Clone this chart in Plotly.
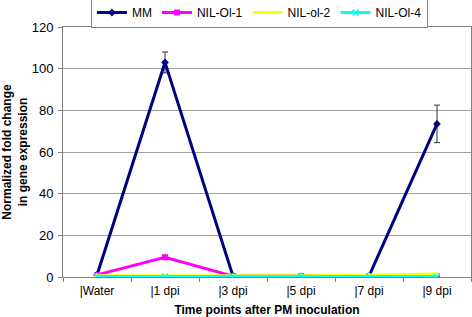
import plotly.graph_objects as go

categories = ["|Water", "|1 dpi", "|3 dpi", "|5 dpi", "|7 dpi", "|9 dpi"]
mm = [1.0, 103.0, 0.4, 0.3, 0.4, 73.5]
mm_err = [0, 5.0, 0, 0, 0, 9.0]
nil_ol_1 = [1.0, 9.5, 0.4, 0.4, 0.4, 0.5]
nil_ol_2 = [0.6, 0.5, 0.5, 0.6, 0.8, 1.5]
nil_ol_4 = [0.3, 0.2, 0.2, 0.2, 0.2, 0.3]
y_ticks = [0, 20, 40, 60, 80, 100, 120]

fig = go.Figure()
fig.add_trace(go.Scatter(
    x=categories, y=mm, name="MM", mode="lines+markers",
    line=dict(color="#000080", width=3),
    marker=dict(symbol="diamond", size=6, color="#000080"),
    error_y=dict(type="data", array=mm_err, visible=True, color="#333333", thickness=1, width=3)))
fig.add_trace(go.Scatter(
    x=categories, y=nil_ol_1, name="NIL-Ol-1", mode="lines+markers",
    line=dict(color="#FF00FF", width=3),
    marker=dict(symbol="square", size=6, color="#FF00FF")))
fig.add_trace(go.Scatter(
    x=categories, y=nil_ol_2, name="NIL-ol-2", mode="lines+markers",
    line=dict(color="#FFFF00", width=3),
    marker=dict(symbol="triangle-up", size=6, color="#FFFF00")))
fig.add_trace(go.Scatter(
    x=categories, y=nil_ol_4, name="NIL-Ol-4", mode="lines+markers",
    line=dict(color="#00FFFF", width=3),
    marker=dict(symbol="x-thin", size=6, line=dict(color="#00FFFF", width=1.5), color="#00FFFF")))

fig.update_layout(
    width=472, height=317,
    margin=dict(l=63, r=1, t=27, b=40, autoexpand=False),
    paper_bgcolor="white", plot_bgcolor="white",
    font=dict(family="Liberation Sans, Arial, sans-serif", size=12, color="black"),
    showlegend=True,
    legend=dict(orientation="h", x=0.0685, xanchor="left", y=1.12, yanchor="top",
                bordercolor="#808080", borderwidth=1, bgcolor="white",
                font=dict(size=12), itemwidth=30, tracegroupgap=0),
    xaxis=dict(type="category", categoryorder="array", categoryarray=categories,
               showgrid=False, showline=True, linecolor="#808080", mirror=True,
               ticks="outside", ticklen=4, tickcolor="#808080",
               tickson="boundaries", range=[-0.5, 5.5], ticklabelstandoff=3,
               title=dict(text="<b>Time points after PM inoculation</b>", standoff=9,
                          font=dict(size=12))),
    yaxis=dict(range=[0, 120], tickvals=y_ticks, showgrid=True, gridcolor="#A0A0A0",
               showline=True, linecolor="#808080", mirror=True,
               ticks="outside", ticklen=4, tickcolor="#808080",
               zeroline=False, tickfont=dict(size=13), ticklabelstandoff=2,
               title=dict(text="<b>Normalized fold change<br>in gene expression</b>",
                          standoff=4, font=dict(size=12))),
)

fig.write_html("out.html", config={"displayModeBar": False},
               post_script="document.body.style.margin='0';document.body.style.padding='0';")
